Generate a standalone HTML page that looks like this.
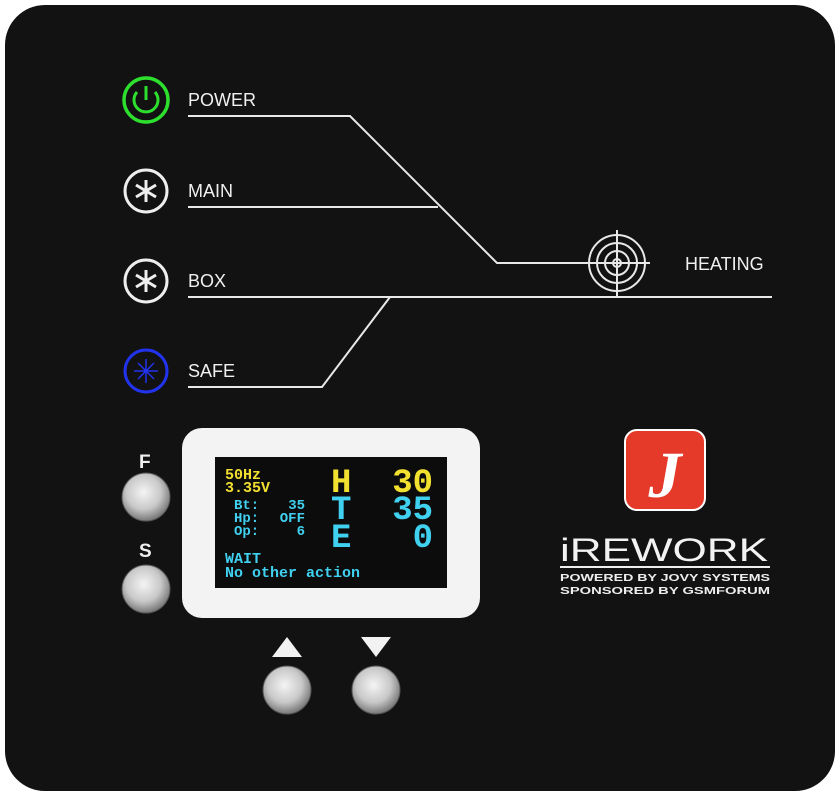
<!DOCTYPE html>
<html><head><meta charset="utf-8"><style>
html,body{margin:0;padding:0;background:#fff;}
svg{display:block}
</style></head><body>
<svg width="840" height="796" viewBox="0 0 840 796" xmlns="http://www.w3.org/2000/svg">
<defs>
<radialGradient id="btn" cx="45%" cy="40%" r="60%">
<stop offset="0" stop-color="#f4f4f4"/><stop offset="0.6" stop-color="#c8c8c8"/><stop offset="1" stop-color="#777"/>
</radialGradient>
</defs>
<rect x="5" y="5" width="830" height="786" rx="40" fill="#121212"/>
<g stroke="#e8e8e8" stroke-width="2" fill="none">
<polyline points="188,116 350,116 497,263 650,263"/>
<line x1="188" y1="207" x2="438" y2="207"/>
<line x1="188" y1="297" x2="772" y2="297"/>
<polyline points="188,387 322,387 390,297"/>
<circle cx="617" cy="263" r="28"/><circle cx="617" cy="263" r="20"/><circle cx="617" cy="263" r="12"/><circle cx="617" cy="263" r="4"/>
<line x1="617" y1="230" x2="617" y2="296"/><line x1="585" y1="263" x2="650" y2="263"/>
</g>
<g font-family="Liberation Sans, sans-serif" fill="#f0f0f0" font-size="18">
<text x="188" y="106">POWER</text>
<text x="188" y="197">MAIN</text>
<text x="188" y="287">BOX</text>
<text x="188" y="377">SAFE</text>
<text x="685" y="270">HEATING</text>
<text x="139" y="468" font-weight="bold" font-size="19">F</text>
<text x="139" y="557" font-weight="bold" font-size="19">S</text>
</g>
<circle cx="146" cy="100" r="22" fill="none" stroke="#2ee02e" stroke-width="3.5"/>
<path d="M137,92 A12,12 0 1 0 155,92" fill="none" stroke="#2ee02e" stroke-width="3"/>
<line x1="146" y1="86" x2="146" y2="100" stroke="#2ee02e" stroke-width="3"/>
<g stroke="#eee" stroke-width="3" fill="none">
<circle cx="146" cy="191" r="21"/>
<path d="M146,180v22M136,185l20,12M136,197l20,-12"/>
<circle cx="146" cy="281" r="21"/>
<path d="M146,270v22M136,275l20,12M136,287l20,-12"/>
</g>
<g stroke="#2233ee" stroke-width="3" fill="none">
<circle cx="146" cy="371" r="21"/>
<path d="M146,359v24M134,371h24M138,363l16,16M138,379l16,-16" stroke-width="1.5"/>
</g>
<g stroke="#555" stroke-width="1">
<circle cx="146" cy="497" r="24" fill="url(#btn)"/>
<circle cx="146" cy="589" r="24" fill="url(#btn)"/>
<circle cx="287" cy="690" r="24" fill="url(#btn)"/>
<circle cx="376" cy="690" r="24" fill="url(#btn)"/>
</g>
<polygon points="272,657 302,657 287,637" fill="#f2f2f2"/>
<polygon points="361,637 391,637 376,657" fill="#f2f2f2"/>
<rect x="182" y="428" width="298" height="190" rx="20" fill="#f3f3f3"/>
<rect x="215" y="457" width="232" height="131" fill="#0c0c0c"/>
<g font-family="Liberation Mono, monospace" font-weight="bold">
<text x="225" y="479" font-size="15" fill="#f2e030">50Hz</text>
<text x="225" y="492" font-size="15" fill="#f2e030">3.35V</text>
<text x="234" y="509" font-size="14" fill="#40d0f0">Bt:</text><text x="305" y="509" font-size="14" fill="#40d0f0" text-anchor="end">35</text>
<text x="234" y="522" font-size="14" fill="#40d0f0">Hp:</text><text x="305" y="522" font-size="14" fill="#40d0f0" text-anchor="end">OFF</text>
<text x="234" y="535" font-size="14" fill="#40d0f0">Op:</text><text x="305" y="535" font-size="14" fill="#40d0f0" text-anchor="end">6</text>
<text x="331" y="492" font-size="34" fill="#f2e030">H</text>
<text x="433" y="492" font-size="34" fill="#f2e030" text-anchor="end">30</text>
<text x="331" y="519" font-size="34" fill="#40d0f0">T</text>
<text x="433" y="519" font-size="34" fill="#40d0f0" text-anchor="end">35</text>
<text x="331" y="547" font-size="34" fill="#40d0f0">E</text>
<text x="433" y="547" font-size="34" fill="#40d0f0" text-anchor="end">0</text>
<text x="225" y="563" font-size="15" fill="#40d0f0">WAIT</text>
<text x="225" y="577" font-size="15" fill="#40d0f0">No other action</text>
</g>
<rect x="625" y="430" width="80" height="80" rx="12" fill="#e53a2a" stroke="#fff" stroke-width="2"/>
<text x="665" y="497" font-family="Liberation Serif, serif" font-style="italic" font-weight="bold" font-size="66" fill="#fff" text-anchor="middle">J</text>
<text x="560" y="561" font-family="Liberation Sans, sans-serif" font-size="32" fill="#f2f2f2" textLength="208" lengthAdjust="spacingAndGlyphs">iREWORK</text>
<line x1="560" y1="567" x2="770" y2="567" stroke="#eee" stroke-width="2"/>
<text x="560" y="581" font-family="Liberation Sans, sans-serif" font-weight="bold" font-size="10.5" fill="#eee" textLength="210" lengthAdjust="spacingAndGlyphs">POWERED BY JOVY SYSTEMS</text>
<text x="560" y="594" font-family="Liberation Sans, sans-serif" font-weight="bold" font-size="10.5" fill="#eee" textLength="210" lengthAdjust="spacingAndGlyphs">SPONSORED BY GSMFORUM</text>
</svg>
</body></html>
